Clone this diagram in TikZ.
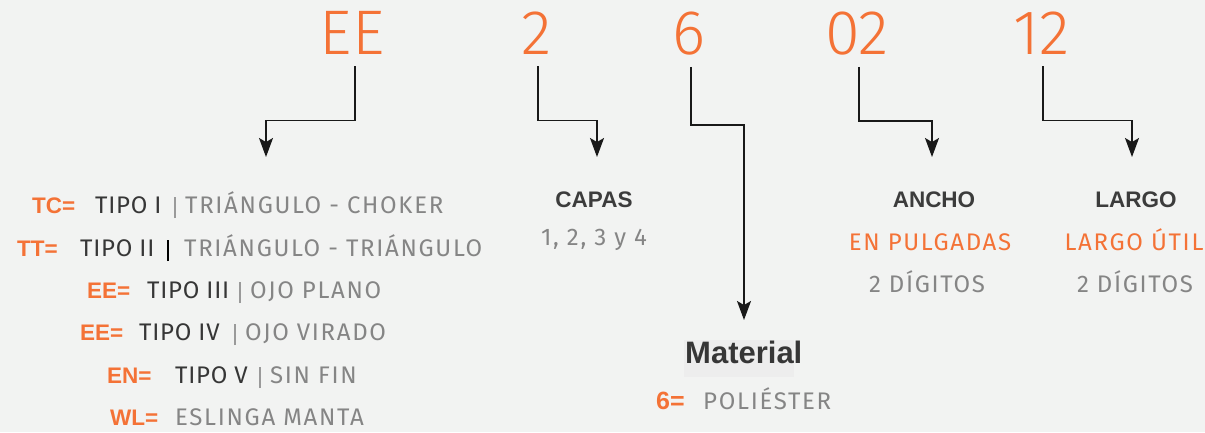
\documentclass[tikz,border=0pt]{standalone}
\usepackage{fontspec}
\setmainfont{Fira Sans}
\newfontfamily\thinfont{Fira Sans Light}
\newfontfamily\bodyfont{Fira Sans}[LetterSpace=7]
\newfontfamily\tipofont{Fira Sans}[LetterSpace=3]
\newfontfamily\headfont{Liberation Sans}
\usetikzlibrary{arrows.meta, positioning}

\definecolor{bgc}{HTML}{F2F3F2}
\definecolor{boxc}{HTML}{EDEDED}
\definecolor{orng}{HTML}{F47236}
\definecolor{darktxt}{HTML}{363636}
\definecolor{headtxt}{HTML}{3C3C3C}
\definecolor{graytxt}{HTML}{858585}
\definecolor{barc}{HTML}{9A9A9A}

\begin{document}
\begin{tikzpicture}[x=1pt, y=-1pt,
    every node/.style={inner sep=0pt},
    digit/.style={font=\thinfont\fontsize{63}{63}\selectfont, text=orng, anchor=base, inner ysep=12pt},
    link/.style={draw=black!90, line width=1.4pt, -{Stealth[length=19pt, width=14pt, inset=4pt]}},
    key/.style={font=\headfont\bfseries\fontsize{22.5}{22.5}\selectfont, text=orng, anchor=base west},
    tipo/.style={font=\tipofont\fontsize{24}{24}\selectfont, text=darktxt, anchor=base west},
    desc/.style={font=\bodyfont\fontsize{24}{24}\selectfont, text=graytxt, anchor=base west},
    head/.style={font=\headfont\bfseries\fontsize{22.5}{22.5}\selectfont, text=headtxt, anchor=base},
    sub/.style={font=\bodyfont\fontsize{24}{24}\selectfont, anchor=base}]
  \fill[bgc] (0,0) rectangle (1205,432);
  \useasboundingbox (0,0) rectangle (1205,432);

  % code digits
  \node[digit] (ee) at (352,54) {EE};
  \node[digit] (capa) at (537,54) {2};
  \node[digit] (mat) at (689,54) {6};
  \node[digit] (ancho) at (857,54) {02};
  \node[digit] (largo) at (1042,54) {12};

  \coordinate (eeTip) at (266,157);
  \coordinate (capaTip) at (597,157);
  \coordinate (matTip) at (744,320);
  \coordinate (anchoTip) at (932,157);
  \coordinate (largoTip) at (1132,157);

  \draw[link] ([xshift=3pt]ee.south) -- ++(0,54) -| (eeTip);
  \draw[link] ([xshift=1pt]capa.south) -- ++(0,54) -| (capaTip);
  \draw[link] ([xshift=2pt]mat.south) -- ++(0,58) -| (matTip);
  \draw[link] ([xshift=2pt]ancho.south) -- ++(0,54) -| (anchoTip);
  \draw[link] ([xshift=1pt]largo.south) -- ++(0,54) -| (largoTip);

  % tipos
  \foreach \y/\kx/\k/\tx/\t/\bx/\bc/\bw/\dx/\d [count=\i] in {
      213/32/TC=/95/TIPO I/175/barc/1.2/185/TRIÁNGULO - CHOKER,
      256/17/TT=/80/TIPO II/168/black/2/184/TRIÁNGULO - TRIÁNGULO,
      298/87/EE=/147/TIPO III/240/barc/1.2/250/OJO PLANO,
      340/80/EE=/139/TIPO IV/235/barc/1.2/245/OJO VIRADO,
      383/107/EN=/175/TIPO V/260/barc/1.2/270/SIN FIN}
  {
    \node[key] (key\i) at (\kx,\y) {\k};
    \node[tipo] (tipo\i) at (\tx,\y) {\t};
    \draw[draw=\bc, line width=\bw pt] (\bx,\y+5) -- (\bx,\y-16);
    \node[desc] (desc\i) at (\dx,\y) {\d};
  }
  \node[key] (key6) at (110,425) {WL=};
  \node[desc] (desc6) at (175,425) {ESLINGA MANTA};

  % capas
  \node[head] (capas) at (594,207) {CAPAS};
  \node[sub, text=graytxt] (capasVal) at (594,245) {1, 2, 3 y 4};

  % material
  \fill[boxc] (684,340) rectangle (794,377);
  \node[font=\headfont\bfseries\fontsize{31}{31}\selectfont, text=darktxt, anchor=base west] (material) at (685,363) {Material};
  \node[key, font=\headfont\bfseries\fontsize{25}{25}\selectfont] (key7) at (656,409) {6=};
  \node[desc] (desc7) at (703,409) {POLIÉSTER};

  % ancho y largo
  \node[head] (anchoHead) at (934,207) {ANCHO};
  \node[sub, text=orng] (anchoUnit) at (930,250) {EN PULGADAS};
  \node[sub, text=graytxt] (anchoDig) at (927,292) {2 DÍGITOS};
  \node[head] (largoHead) at (1136,207) {LARGO};
  \node[sub, text=orng] (largoUnit) at (1134,250) {LARGO ÚTIL};
  \node[sub, text=graytxt] (largoDig) at (1135,292) {2 DÍGITOS};
\end{tikzpicture}
\end{document}
